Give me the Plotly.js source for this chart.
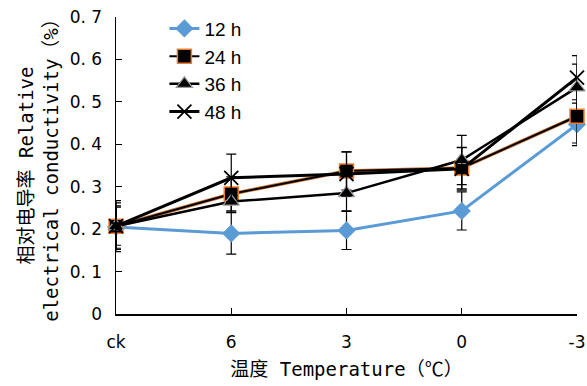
<!DOCTYPE html>
<html><head><meta charset="utf-8">
<script src="https://cdn.plot.ly/plotly-3.0.1.min.js"></script>
<style>html,body{margin:0;padding:0;background:#fff}#c{width:587px;height:386px}</style>
</head><body><div id="c"></div>
<script>
const categories = ["ck", "6", "3", "0", "-3"];
const tickText = ["ck", "6", "3", "0", "-3"];
const h12 = [0.205, 0.190, 0.197, 0.243, 0.447];
const h12Err = [0.050, 0.049, 0.045, 0.045, 0.050];
const h24 = [0.207, 0.283, 0.337, 0.344, 0.466];
const h24Err = [0.055, 0.040, 0.045, 0.049, 0.063];
const h36 = [0.207, 0.265, 0.285, 0.363, 0.534];
const h36Err = [0.045, 0.025, 0.042, 0.058, 0.055];
const h48 = [0.207, 0.321, 0.330, 0.342, 0.557];
const h48Err = [0.060, 0.056, 0.052, 0.050, 0.052];
const yTickVals = [0, 0.1, 0.2, 0.3, 0.4, 0.5, 0.6, 0.7];
const yTickText = ["0", "0. 1", "0. 2", "0. 3", "0. 4", "0. 5", "0. 6", "0. 7"];

const eb = (arr) => ({type: "data", array: arr, visible: true, color: "#000", thickness: 1.2, width: 5});
const x = categories;
const traces = [
  {x, y: h12, name: "12 h", legendgroup: "a", mode: "lines+markers", cliponaxis: false,
   line: {color: "#5B9BD5", width: 3}, marker: {symbol: "diamond", size: 14, color: "#5B9BD5"}, error_y: eb(h12Err)},
  {x, y: h24, name: "24 h u", legendgroup: "b", showlegend: false, mode: "lines", cliponaxis: false, hoverinfo: "skip",
   line: {color: "#C8753A", width: 3.6}},
  {x, y: h24, name: "24 h", legendgroup: "b", mode: "lines+markers", cliponaxis: false,
   line: {color: "#000", width: 2}, marker: {symbol: "square", size: 14, color: "#000", line: {color: "#ED7D31", width: 1.5}}, error_y: eb(h24Err)},
  {x, y: h36, name: "36 h", legendgroup: "c", mode: "lines+markers", cliponaxis: false,
   line: {color: "#000", width: 2.5}, marker: {symbol: "triangle-up", size: 14, color: "#000", line: {color: "#999", width: 1.2}}, error_y: eb(h36Err)},
  {x, y: h48, name: "48 h", legendgroup: "d", mode: "lines+markers", cliponaxis: false,
   line: {color: "#000", width: 3}, marker: {symbol: "x-thin-open", size: 14, color: "#000", line: {color: "#000", width: 1.8}}, error_y: eb(h48Err)}
];
const mono = "'DejaVu Sans Mono', 'Noto Sans CJK SC', monospace";
const sans = "'DejaVu Sans', 'Noto Sans CJK SC', sans-serif";
const layout = {
  width: 587, height: 386,
  margin: {l: 116, r: 10, t: 15, b: 72},
  paper_bgcolor: "#fff", plot_bgcolor: "#fff",
  showlegend: true,
  legend: {x: 0.105, y: 1.025, xanchor: "left", yanchor: "top", traceorder: "grouped", tracegroupgap: 0,
           font: {family: "Liberation Sans, Arial, sans-serif", size: 19, color: "#000"}, bgcolor: "rgba(0,0,0,0)"},
  xaxis: {type: "category", range: [0, 4], tickvals: categories, ticktext: tickText,
          showline: true, linecolor: "#000", linewidth: 1.5, showgrid: false, zeroline: false,
          ticks: "inside", ticklen: 6, tickcolor: "#000", tickwidth: 1.2, ticklabelstandoff: 12,
          tickfont: {family: sans, size: 17, color: "#000"},
          title: {text: "温度 Temperature（℃）", font: {family: mono, size: 19, color: "#000"}, standoff: 12}},
  yaxis: {range: [0, 0.7], tickvals: yTickVals, ticktext: yTickText,
          showline: true, linecolor: "#000", linewidth: 1.5, showgrid: false, zeroline: false,
          ticks: "inside", ticklen: 6, tickcolor: "#000", tickwidth: 1.2, ticklabelstandoff: 9,
          tickfont: {family: sans, size: 17, color: "#000"},
          title: {text: "相对电导率 Relative<br>electrical conductivity（%）", font: {family: mono, size: 19, color: "#000"}, standoff: 6}}
};
Plotly.newPlot("c", traces, layout, {displayModeBar: false, staticPlot: true});
</script></body></html>
